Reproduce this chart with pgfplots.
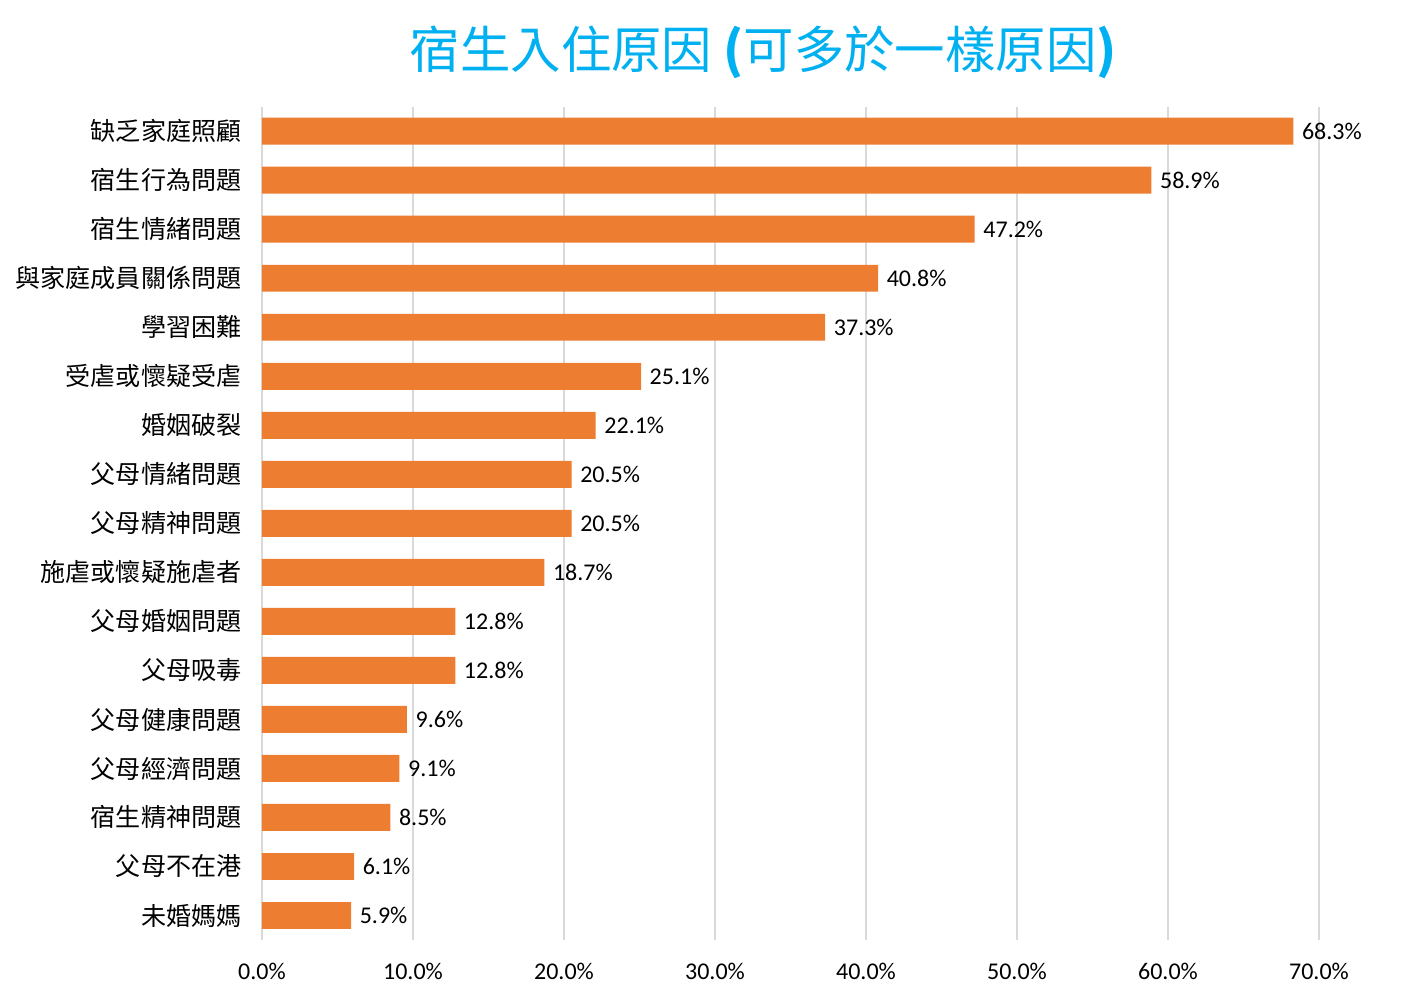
\documentclass[border=0pt]{standalone}
\usepackage{fontspec}
\setmainfont{Carlito}
\newfontfamily\cjk{Noto Sans CJK TC}
\usepackage{pgfplots}
\pgfplotsset{compat=1.18}
\definecolor{barorange}{HTML}{ED7D31}
\definecolor{titleblue}{HTML}{00B0F0}
\definecolor{gridgray}{HTML}{D9D9D9}

\begin{document}
\begin{tikzpicture}
% 1 px of the reference = 0.75pt
\useasboundingbox (-196.5pt,-45pt) rectangle (855pt,705pt);
\begin{axis}[
  at={(0pt,0pt)}, anchor=south west,
  scale only axis,
  width=792.75pt, height=625pt,
  xbar, bar width=0.55,
  xmin=0, xmax=70,
  ymin=-0.5, ymax=16.5,
  y dir=reverse,
  axis lines*=left,
  x axis line style={draw=none},
  y axis line style={draw=gridgray, line width=1pt},
  xtick={0,10,...,70},
  xmajorgrids, grid style={draw=gridgray, line width=1pt},
  major tick length=0pt,
  /pgf/number format/assume math mode=true,
  xticklabel={\pgfmathprintnumber[fixed,fixed zerofill,precision=1]{\tick}\%},
  xticklabel style={font=\fontsize{18}{21}\selectfont, yshift=-14pt},
  ytick={0,...,16},
  yticklabels={缺乏家庭照顧,宿生行為問題,宿生情緒問題,與家庭成員關係問題,學習困難,受虐或懷疑受虐,婚姻破裂,父母情緒問題,父母精神問題,施虐或懷疑施虐者,父母婚姻問題,父母吸毒,父母健康問題,父母經濟問題,宿生精神問題,父母不在港,未婚媽媽},
  yticklabel style={font=\cjk\fontsize{18.8}{21}\selectfont, xshift=-12pt},
  nodes near coords={\pgfmathprintnumber[fixed,fixed zerofill,precision=1]{\pgfplotspointmeta}\%},
  nodes near coords style={font=\fontsize{18}{21}\selectfont, anchor=west, xshift=3pt},
  point meta=x,
  clip=false,
]
\addplot[fill=barorange, draw=none] coordinates {
  (68.3,0) (58.9,1) (47.2,2) (40.8,3) (37.3,4) (25.1,5) (22.1,6) (20.5,7)
  (20.5,8) (18.7,9) (12.8,10) (12.8,11) (9.6,12) (9.1,13) (8.5,14) (6.1,15) (5.9,16)
};
\end{axis}
\node[text=titleblue, font=\cjk\fontsize{37.8}{42}\selectfont] at (376pt,666pt) {宿生入住原因 \textbf{(}可多於一樣原因\textbf{)}};
\end{tikzpicture}
\end{document}
